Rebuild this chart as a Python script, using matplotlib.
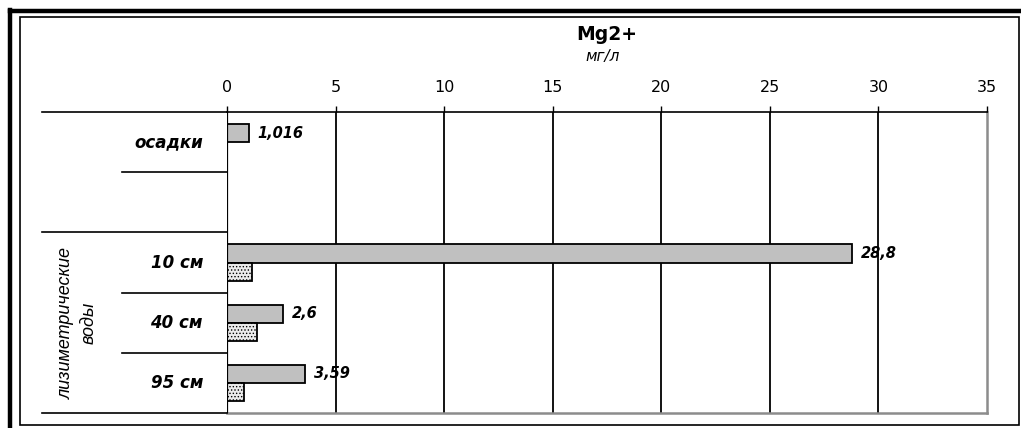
import numpy as np
import matplotlib.pyplot as plt
from matplotlib.patches import Rectangle
from matplotlib.lines import Line2D

# данные
categories = ['осадки', '', '10 см', '40 см', '95 см']
series1 = [1.016, None, 28.8, 2.6, 3.59]
series2 = [None, None, 1.15, 1.38, 0.80]
xticks = [0, 5, 10, 15, 20, 25, 30, 35]
group_label = 'лизиметрические\nводы'

plt.rcParams['font.family'] = ['DejaVu Sans']
plt.rcParams['hatch.color'] = '#8a8a8a'
plt.rcParams['hatch.linewidth'] = 0.6

fig = plt.figure(figsize=(10.21, 4.28), dpi=100)
W, H = 1021, 428

def fx(px):
    return px / W

def fy(py):
    return 1 - py / H

# рамки
fig.add_artist(Line2D([fx(10), fx(10)], [fy(10), fy(428)], color='black', lw=3.2))
fig.add_artist(Line2D([fx(10), fx(1021)], [fy(11), fy(11)], color='black', lw=3.2))
fig.add_artist(Rectangle((fx(20), fy(425)), fx(999), 408 / H, fill=False,
                         edgecolor='black', lw=1.2))

ax = fig.add_axes([fx(227), fy(413), fx(760), 301 / H])

y = np.arange(len(categories))
h = 0.3
for i in range(len(categories)):
    if series1[i] is not None:
        ax.barh(y[i] - h / 2, series1[i], height=h, color='#c0c0c0',
                edgecolor='black', lw=1.3, zorder=3)
        lab = str(series1[i]).replace('.', ',')
        ax.text(series1[i] + 0.4, y[i] - h / 2, lab, fontsize=10.5, fontweight='bold',
                fontstyle='italic', va='center', ha='left', zorder=4)
    if series2[i] is not None:
        ax.barh(y[i] + h / 2, series2[i], height=h, color='#ececec',
                edgecolor='black', lw=1.3, hatch='.....', zorder=3)

ax.set_xlim(0, 35)
ax.set_ylim(len(categories) - 0.5, -0.5)
ax.xaxis.tick_top()
ax.set_xticks(xticks)
ax.tick_params(axis='x', length=4, width=1, pad=8, labelsize=11.5)
ax.set_yticks([])
for x in xticks[1:-1]:
    ax.axvline(x, color='black', lw=1.3, zorder=1)
ax.axvline(0, color='black', lw=1.6, zorder=5)

for s in ['left', 'bottom', 'right']:
    ax.spines[s].set_visible(False)
ax.spines['top'].set_linewidth(1.2)
ax.axvline(35, color='#8c8c8c', lw=1.8, zorder=1, clip_on=False)
ax.axhline(len(categories) - 0.5, color='#8c8c8c', lw=1.8, zorder=1, clip_on=False)

# подписи категорий и разделители
tr = ax.get_yaxis_transform()
x_long = (42 - 227) / 760
x_short = (122 - 227) / 760
bounds = [-0.5, 0.5, 1.5, 2.5, 3.5, 4.5]
starts = [x_long, x_short, x_long, x_short, x_short, x_long]
for b, s in zip(bounds, starts):
    ax.plot([s, 0], [b, b], color='black', lw=1.2, transform=tr, clip_on=False)

for i, c in enumerate(categories):
    if c:
        ax.text(-24 / 760, y[i], c, transform=tr, ha='right', va='center',
                fontsize=12, fontweight='bold', fontstyle='italic')

ax.text((78 - 227) / 760, 3.0, group_label, transform=tr, rotation=90,
        ha='center', va='center', fontsize=13, fontstyle='italic',
        family=['Liberation Sans Narrow', 'Liberation Sans'], linespacing=1.45)

# заголовок
fig.text(fx(607), fy(35), 'Mg2+', ha='center', va='center', fontsize=13.5,
         fontweight='bold')
fig.text(fx(603), fy(56), 'мг/л', ha='center', va='center', fontsize=11,
         fontstyle='italic')

fig.savefig('out.png', dpi=100)
